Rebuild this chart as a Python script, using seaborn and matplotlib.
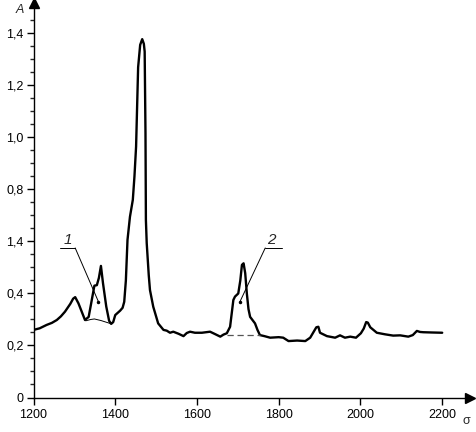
import matplotlib
matplotlib.use("Agg")
import matplotlib.pyplot as plt
import seaborn as sns
import pandas as pd

# ---- data ----
wavenumber = [1200, 1215, 1232, 1245, 1257, 1267, 1277, 1290, 1297, 1302, 1310, 1318, 1326,
              1335, 1342, 1349, 1355, 1360, 1365, 1370, 1378, 1385, 1390, 1395, 1400, 1412,
              1418, 1422, 1426, 1430, 1436, 1443, 1447, 1451, 1456, 1461, 1466, 1470, 1472,
              1474, 1475, 1477, 1482, 1485, 1493, 1505, 1518, 1526, 1534, 1542, 1555, 1567,
              1575, 1583, 1595, 1612, 1622, 1632, 1644, 1657, 1665, 1673, 1681, 1689, 1693,
              1701, 1706, 1710, 1714, 1718, 1722, 1726, 1730, 1742, 1748, 1754, 1765, 1779,
              1800, 1811, 1824, 1845, 1865, 1877, 1892, 1897, 1901, 1918, 1938, 1950, 1962,
              1975, 1989, 2001, 2008, 2014, 2018, 2024, 2040, 2060, 2080, 2097, 2117, 2128,
              2138, 2146, 2154, 2175, 2200]
absorbance = [0.260, 0.266, 0.279, 0.287, 0.298, 0.312, 0.330, 0.360, 0.380, 0.386, 0.362, 0.330, 0.298,
              0.310, 0.370, 0.430, 0.432, 0.460, 0.506, 0.440, 0.350, 0.295, 0.283, 0.290, 0.317, 0.334,
              0.345, 0.368, 0.450, 0.606, 0.695, 0.760, 0.850, 0.965, 1.270, 1.356, 1.378, 1.360, 1.330,
              1.017, 0.683, 0.594, 0.470, 0.413, 0.349, 0.285, 0.260, 0.257, 0.249, 0.253, 0.245, 0.236,
              0.248, 0.253, 0.249, 0.249, 0.251, 0.253, 0.244, 0.234, 0.242, 0.247, 0.272, 0.375, 0.388,
              0.400, 0.450, 0.510, 0.516, 0.478, 0.400, 0.340, 0.310, 0.285, 0.260, 0.240, 0.236, 0.230,
              0.232, 0.230, 0.217, 0.219, 0.217, 0.230, 0.270, 0.272, 0.249, 0.236, 0.230, 0.239, 0.230,
              0.234, 0.230, 0.247, 0.265, 0.290, 0.288, 0.270, 0.249, 0.243, 0.238, 0.239, 0.234, 0.240,
              0.256, 0.252, 0.251, 0.250, 0.249]

base1_x = [1328, 1340, 1349, 1365, 1387]
base1_y = [0.295, 0.300, 0.302, 0.296, 0.285]
base2_x = [1673, 1754]
base2_y = [0.240, 0.240]

x_ticks = [1200, 1400, 1600, 1800, 2000, 2200]
x_ticklabels = ["1200", "1400", "1600", "1800", "2000", "2200"]
y_ticks = [0, 0.2, 0.4, 0.6, 0.8, 1.0, 1.2, 1.4]
y_ticklabels = ["0", "0,2", "0,4", "1,4", "0,8", "1,0", "1,2", "1,4"]

labels = ["1", "2"]
label_text_xy = [(1284, 0.605), (1783, 0.605)]
label_shelf = [(1265, 1302, 0.575), (1767, 1808, 0.575)]
label_tip_start = [(1302, 0.575), (1767, 0.575)]
label_tip_end = [(1359, 0.368), (1705, 0.368)]

# ---- plot ----
sns.set_style("white")
plt.rcParams["font.family"] = ["Liberation Sans", "DejaVu Sans"]

fig = plt.figure(figsize=(4.77, 4.32), dpi=100)
ax = fig.add_axes([33.5 / 477, 34.5 / 432, (470 - 33.5) / 477, (397.5 - 3) / 432])

df = pd.DataFrame({"sigma": wavenumber, "A": absorbance})
sns.lineplot(data=df, x="sigma", y="A", ax=ax, color="black", lw=1.7, sort=False)

ax.plot(base1_x, base1_y, color="black", lw=0.7)
ax.plot(base2_x, base2_y, color="#555555", lw=0.9, ls=(0, (5, 3)))

for lab, (tx, ty), (sx0, sx1, sy), (ax0, ay0), (ax1, ay1) in zip(
        labels, label_text_xy, label_shelf, label_tip_start, label_tip_end):
    ax.plot([sx0, sx1], [sy, sy], color="black", lw=0.7)
    ax.plot([ax0, ax1], [ay0, ay1], color="black", lw=0.7)
    ax.plot([ax1], [ay1], marker="o", ms=1.5, color="black")
    ax.text(tx, ty, lab, fontsize=11, style="italic", ha="center", va="center")

ax.set_xlim(1200, 2268)
ax.set_ylim(0, 1.517)

for s in ["top", "right"]:
    ax.spines[s].set_visible(False)
for s in ["left", "bottom"]:
    ax.spines[s].set_color("black")
    ax.spines[s].set_linewidth(1.0)

# arrows
ax.plot([1], [0], marker=">", ms=7, color="black", transform=ax.transAxes, clip_on=False)
ax.plot([0], [1], marker="^", ms=7, color="black", transform=ax.transAxes, clip_on=False)

ax.set_xticks(x_ticks)
ax.set_xticklabels(x_ticklabels)
ax.set_yticks(y_ticks)
ax.set_yticklabels(y_ticklabels)
ax.set_yticks([0.05 + 0.05 * i for i in range(29) if (i + 1) % 4 != 0], minor=True)
ax.tick_params(axis="both", which="major", direction="out", length=5, width=1.0,
               labelsize=9, colors="black", pad=3, bottom=True, left=True)
ax.tick_params(axis="y", which="minor", direction="out", length=3, width=1.0, left=True)
ax.tick_params(axis="y", pad=2)

ax.set_xlabel("")
ax.set_ylabel("")
fig.text(20 / 477, 1 - 10 / 432, "A", fontsize=9, style="italic", ha="center", va="center")
fig.text(466 / 477, 1 - 421 / 432, "σ", fontsize=9, ha="center", va="center")

fig.savefig("out.png", dpi=100)
